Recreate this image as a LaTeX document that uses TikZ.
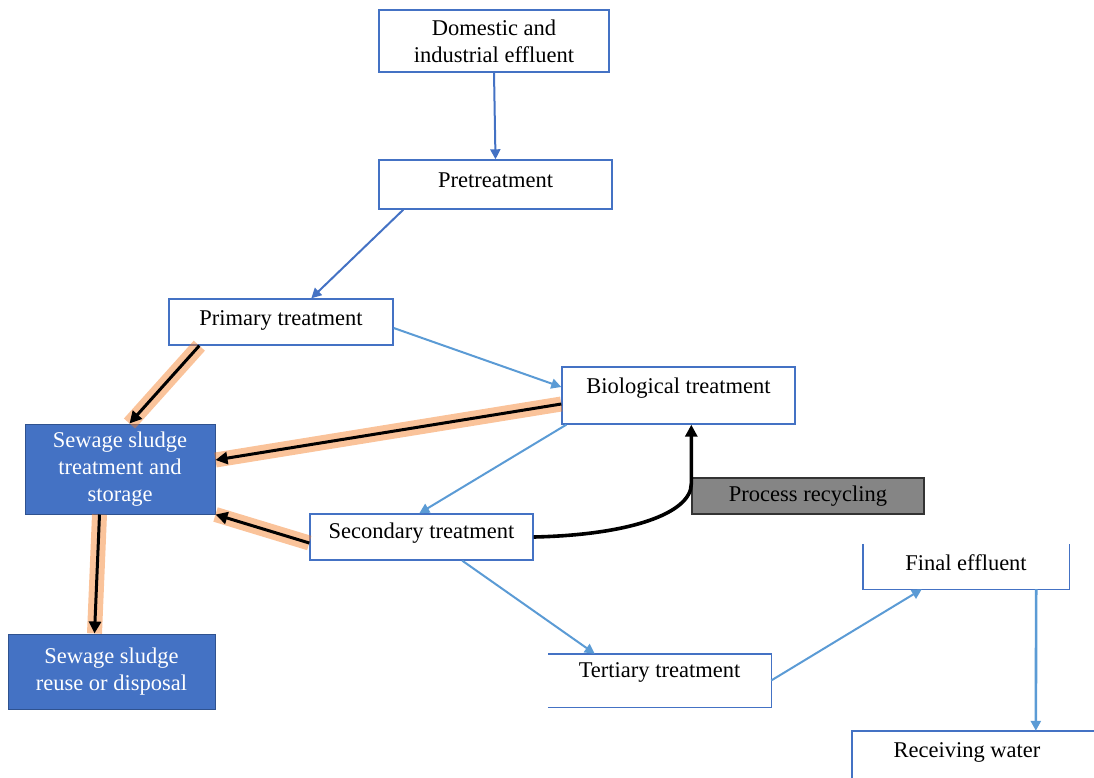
\documentclass[tikz,border=0pt]{standalone}
\usepackage{fontspec}
\setmainfont{Liberation Serif}
\usetikzlibrary{arrows.meta,calc}
\definecolor{bdr}{HTML}{4472C4}
\definecolor{lblue}{HTML}{5B9BD5}
\definecolor{sfill}{HTML}{4472C4}
\definecolor{sbdr}{HTML}{2F528F}
\definecolor{halo}{HTML}{F47920}
\definecolor{pgray}{HTML}{858585}
\begin{document}
\begin{tikzpicture}[x=1pt,y=-1pt,
  every node/.style={font=\fontsize{22.5}{27}\selectfont},
  box/.style={draw=bdr, line width=1.4pt, fill=white, inner sep=0pt},
  openbox/.style={draw=none, inner sep=0pt},
  sbox/.style={draw=sbdr, line width=1pt, fill=sfill, text=white, align=center, inner sep=0pt},
  pbox/.style={draw=black!80, line width=1.4pt, fill=pgray, inner sep=0pt},
  bord/.style={draw=bdr, line width=1.4pt},
  darrow/.style={draw=bdr, line width=2pt, -{Triangle[length=10pt,width=10pt]}},
  larrow/.style={draw=lblue, line width=2pt, -{Triangle[length=10pt,width=10pt]}},
  karrow/.style={draw=black, line width=3pt, -{Triangle[length=12pt,width=12pt]},
     preaction={draw=halo, line width=15pt, opacity=0.45, -{}}},
  recyc/.style={draw=black, line width=3.6pt, -{Triangle[length=12pt,width=12pt]}}
]
\useasboundingbox (0,0) rectangle (1094,778);

% boxes
\node[box, minimum width=230pt, minimum height=62pt, align=center] (dom) at (494,41)
  {Domestic and\\industrial effluent};
\node[box, minimum width=233pt, minimum height=49pt,
  label={[yshift=4.5pt]center:Pretreatment}] (pre) at (495.5,184.5) {};
\node[box, minimum width=224pt, minimum height=46pt,
  label={[yshift=2pt]center:Primary treatment}] (prim) at (281,322) {};
\node[box, minimum width=233pt, minimum height=57pt,
  label={[yshift=7pt]center:Biological treatment}] (bio) at (678.5,395.5) {};
\node[sbox, minimum width=190pt, minimum height=90pt] (sl) at (120,469)
  {Sewage sludge\\treatment and\\storage};
\node[sbox, minimum width=207pt, minimum height=75pt] (reuse) at (111.5,671.5)
  {Sewage sludge\\reuse or disposal};
\node[box, minimum width=223pt, minimum height=46pt,
  label={[yshift=4pt]center:Secondary treatment}] (sec) at (421.5,537) {};
\node[pbox, minimum width=232pt, minimum height=36pt] (proc) at (808,496) {Process recycling};
\node[openbox, minimum width=223pt, minimum height=53pt,
  label={[yshift=8pt]center:Tertiary treatment}] (tert) at (659.5,680.5) {};
\draw[bord] (tert.south west) -- (tert.south east) -- (tert.north east) -- (tert.north west);
\node[openbox, minimum width=206pt, minimum height=45pt,
  label={[yshift=3.5pt]center:Final effluent}] (fin) at (966,566.5) {};
\draw[bord] (fin.north west) -- (fin.south west) -- (fin.south east) -- (fin.north east);
\node[openbox, minimum width=242pt, minimum height=47pt,
  label={[xshift=-6pt,yshift=2.5pt]center:Receiving water}] (recv) at (973,754.5) {};
\draw[bord] (recv.south west) -- (recv.north west) -- (recv.north east);

% blue flow arrows
\draw[darrow] (dom.south) -- (pre.north);
\draw[darrow] ($(pre.south west)+(25,0)$) -- ($(prim.north west)+(143,0)$);
\draw[larrow] ($(prim.east)+(0,6)$) -- ($(bio.west)+(0,-8.5)$);
\draw[larrow] ($(bio.south west)+(5,0)$) -- ($(sec.north west)+(110,0)$);
\draw[larrow] ($(sec.south west)+(153,0)$) -- ($(tert.north west)+(47,0)$);
\draw[larrow] (tert.east) -- ($(fin.south west)+(59,0)$);
\draw[larrow, line width=2.6pt] ($(fin.south east)+(-33,0)$) -- ($(recv.north west)+(184,0)$);

% sludge arrows
\draw[karrow] ($(prim.south west)+(31,0)$) -- ($(sl.north west)+(105,0)$);
\draw[karrow] ($(bio.west)+(0,8.5)$) -- ($(sl.east)+(0,-9)$);
\draw[karrow] ($(sec.west)+(0,6)$) -- (sl.south east);
\draw[karrow] ($(sl.south west)+(75,0)$) -- ($(reuse.north west)+(87,0)$);

% process recycling
\coordinate (rc) at ($(bio.south west)+(130,59)$);
\draw[recyc] (sec.east) .. controls ($(sec.east)+(95,-2)$) and ($(rc)+(0,30)$) .. (rc)
  -- ($(bio.south west)+(130,0)$);
\end{tikzpicture}
\end{document}
